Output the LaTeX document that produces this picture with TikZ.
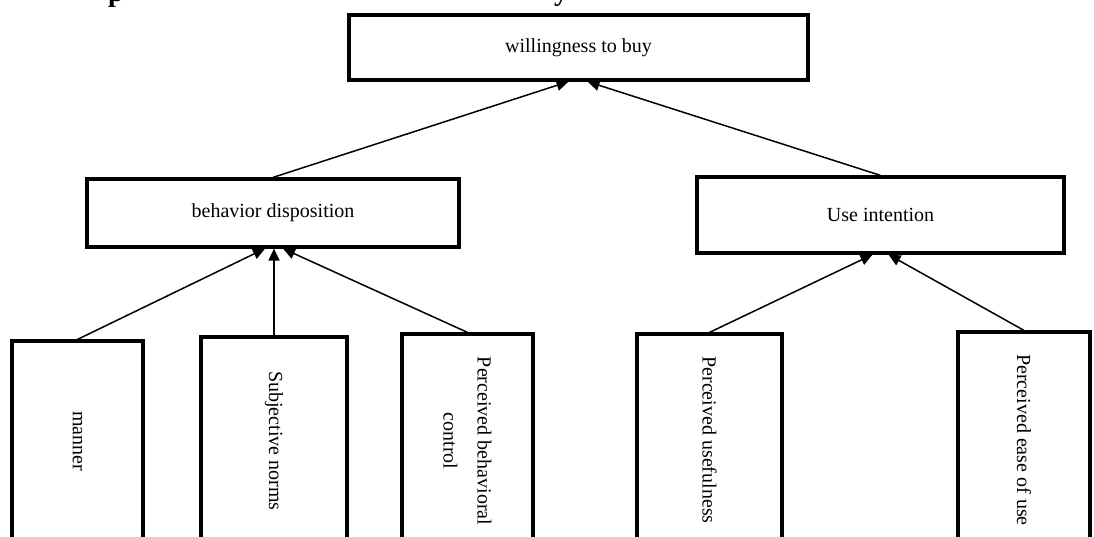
\documentclass[tikz,border=0pt]{standalone}
\usepackage{fontspec}
\setmainfont{Liberation Serif}
\usepackage{graphicx}
\usetikzlibrary{arrows.meta,calc}
\begin{document}
\begin{tikzpicture}[x=1pt,y=-1pt,
  box/.style={draw=black, line width=3.2pt, fill=white, inner sep=0pt,
    font=\fontsize{20}{34}\selectfont, align=center},
  conn/.style={line width=1.5pt, -{Triangle[length=12pt,width=11pt]}},
  titlefrag/.style={anchor=base, inner sep=0pt, font=\fontsize{28}{30}\selectfont\bfseries}
]
\useasboundingbox (0,0) rectangle (1094,536);
\clip (0,0) rectangle (1094,536);

% cut-off heading fragments
\node[titlefrag] (tp) at (116,1) {p};
\node[titlefrag] (ty) at (561,0) {y};

% boxes
\node[box, minimum width=459pt, minimum height=65pt] (top) at (578.5,47.5) {willingness to buy};
\node[box, minimum width=372pt, minimum height=68pt] (behavior) at (273,213) {behavior disposition};
\node[box, minimum width=367pt, minimum height=76pt] (useint) at (880.5,215) {Use intention};

\node[box, minimum width=131pt, minimum height=200pt] (manner) at (77.5,441) {\rotatebox{-90}{manner}};
\node[box, minimum width=146pt, minimum height=208pt] (subj) at (274,441) {\rotatebox{-90}{Subjective norms}};
\node[box, minimum width=131pt, minimum height=214pt] (control) at (467.5,441)
  {\rotatebox{-90}{\begin{tabular}{@{}c@{}}Perceived behavioral\\control\end{tabular}}};
\node[box, minimum width=145pt, minimum height=212pt] (useful) at (709.5,440) {\rotatebox{-90}{Perceived usefulness}};
\node[box, minimum width=132pt, minimum height=216pt] (ease) at (1024,440) {\rotatebox{-90}{Perceived ease of use}};

% connectors
\draw[conn] (behavior.north) -- ($(top.south)+(-10,0)$);
\draw[conn] (useint.north) -- ($(top.south)+(9,0)$);
\draw[conn] (manner.north) -- ($(behavior.south)+(-8,0)$);
\draw[conn] (subj.north) -- (subj.north |- behavior.south);
\draw[conn] (control.north) -- ($(behavior.south)+(10,0)$);
\draw[conn] (useful.north) -- ($(useint.south)+(-8,0)$);
\draw[conn] (ease.north) -- ($(useint.south)+(8,0)$);
\end{tikzpicture}
\end{document}
